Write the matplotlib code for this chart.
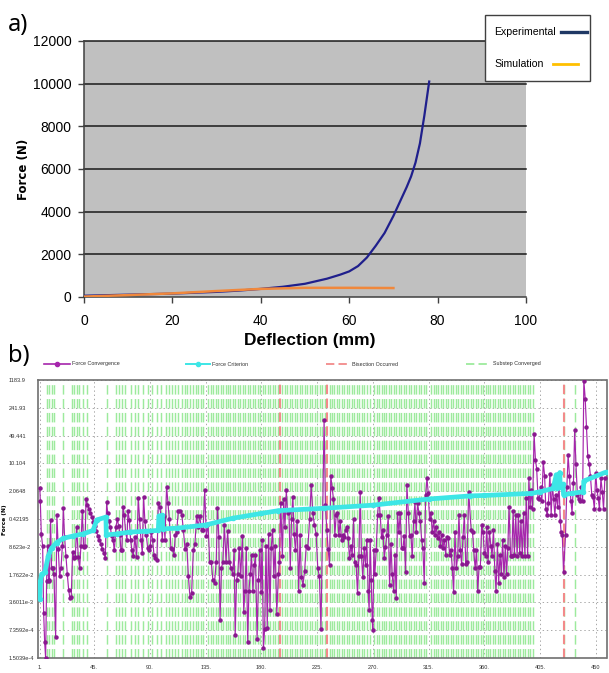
import matplotlib
matplotlib.use("Agg")
import matplotlib.pyplot as plt
from matplotlib.lines import Line2D
from matplotlib.patches import Rectangle

plt.rcParams["lines.scale_dashes"] = False

SANS = ["Liberation Sans", "DejaVu Sans"]

# ---------------- panel a: force vs deflection ----------------
exp_defl = [0, 5, 10, 15, 20, 25, 30, 35, 40, 45, 50, 55, 58, 60, 62, 64, 66, 68, 70, 71,
            72, 73, 74, 75, 76, 77, 78.1]
exp_force = [60, 85, 110, 135, 160, 200, 240, 300, 380, 480, 620, 860, 1050, 1200, 1450,
             1850, 2400, 3000, 3800, 4250, 4700, 5150, 5650, 6300, 7200, 8500, 10100]
sim_defl = [0, 10, 20, 30, 40, 50, 60, 70]
sim_force = [20, 90, 170, 280, 380, 430, 430, 420]
a_xticks = [0, 20, 40, 60, 80, 100]
a_yticks = [0, 2000, 4000, 6000, 8000, 10000, 12000]

# ---------------- panel b: solver convergence history ----------------
conv_iter = [
    1, 1.4, 2.2, 3.3, 4.1, 4.9, 5.7, 6.5, 7.3, 8.1, 8.7, 9.7, 10.5, 11.3, 12.4, 13.8, 14.8,
    15.9, 17.0, 18.1, 19.2, 20.0, 21.0, 22.1, 23.2, 24.3, 25.3, 26.4, 27.5, 28.6, 29.7, 30.7,
    32.1, 33.2, 34.2, 35.3, 36.4, 37.5, 38.3, 39.5, 40.7, 41.9, 43.1, 44.3, 45.5, 46.7, 47.9,
    49.1, 50.3, 51.5, 52.7, 53.9, 55.0, 55.8, 56.8, 57.9, 59.0, 60.1, 61.2, 62.5, 63.6, 64.7,
    65.7, 66.5, 67.3, 68.2, 69.2, 70.3, 71.4, 72.2, 73.3, 74.3, 75.4, 76.5, 77.8, 79.2, 80.5,
    81.6, 82.7, 83.8, 84.8, 85.9, 87.0, 88.1, 89.2, 90.2, 91.0, 92.1, 93.2, 94.3, 95.6, 96.7,
    97.8, 98.8, 99.9, 101.0, 102.1, 103.4, 104.5, 105.6, 106.9, 108.0, 109.4, 110.4, 111.5,
    112.9, 114.4, 115.7, 117.0, 118.3, 119.7, 121.0, 122.3, 123.6, 125.0, 126.3, 127.6, 128.9,
    130.2, 131.6, 132.9, 134.2, 135.5, 136.9, 138.2, 139.5, 140.8, 142.1, 143.5, 144.5, 145.6,
    146.6, 147.7, 148.8, 150.1, 151.4, 152.7, 154.0, 155.4, 156.7, 158.0, 158.8, 159.9, 160.9,
    162.0, 163.3, 164.6, 165.7, 166.7, 167.8, 168.9, 169.9, 171.0, 172.0, 173.1, 174.2, 175.2,
    176.5, 177.6, 178.7, 179.7, 180.5, 181.6, 182.6, 183.7, 184.7, 185.8, 186.9, 187.9, 189.0,
    190.0, 191.1, 192.4, 193.7, 194.5, 195.6, 196.9, 198.0, 199.0, 200.1, 201.1, 202.2, 203.3,
    204.3, 205.4, 206.4, 207.5, 208.8, 210.1, 211.2, 212.2, 213.6, 214.9, 216.2, 217.5, 218.9,
    220.2, 221.5, 222.8, 224.2, 225.5, 226.8, 228.1, 230.6, 231.7, 232.8, 233.9, 235.0, 236.0,
    237.1, 238.2, 239.3, 240.4, 241.4, 242.5, 243.6, 244.7, 245.7, 246.8, 247.9, 249.0, 250.1,
    251.1, 252.2, 253.3, 254.4, 255.4, 256.5, 257.6, 258.7, 259.8, 260.8, 261.9, 263.0, 264.1,
    265.1, 266.2, 267.0, 267.8, 268.7, 269.5, 270.0, 270.8, 271.6, 272.7, 273.8, 274.9, 275.9,
    277.0, 278.1, 279.2, 280.2, 281.3, 282.4, 283.5, 284.6, 285.6, 286.7, 287.8, 288.9, 289.9,
    291.0, 292.1, 293.2, 294.3, 295.3, 296.4, 297.5, 298.6, 299.6, 300.7, 301.8, 302.9, 304.0,
    305.0, 306.1, 307.2, 308.3, 309.4, 310.4, 311.5, 312.6, 313.7, 314.7, 315.8, 316.9, 318.0,
    319.1, 320.1, 321.2, 322.3, 323.4, 324.4, 325.5, 326.6, 327.7, 328.8, 329.8, 330.9, 332.0,
    333.1, 334.2, 335.2, 336.3, 337.4, 338.5, 339.5, 340.6, 341.7, 342.8, 343.9, 345.0, 346.0,
    347.4, 349.4, 350.5, 351.5, 352.6, 353.7, 354.7, 355.8, 356.8, 357.9, 359.0, 360.0, 361.0,
    362.0, 363.0, 364.2, 365.3, 366.3, 367.4, 368.5, 369.5, 370.6, 371.6, 372.7, 373.8, 374.8,
    375.9, 377.0, 378.0, 379.0, 380.0, 381.2, 382.2, 383.3, 384.3, 385.4, 386.5, 387.5, 388.6,
    389.6, 390.7, 391.7, 392.8, 393.9, 395.0, 396.0, 397.0, 398.0, 399.0, 400.2, 401.3, 402.3,
    403.4, 404.4, 405.5, 406.5, 407.6, 408.7, 409.7, 410.8, 411.8, 413.0, 414.0, 415.0, 416.0,
    417.0, 418.2, 419.3, 420.3, 421.4, 422.0, 423.0, 424.0, 425.6, 426.7, 427.7, 428.8, 429.9,
    430.9, 432.0, 433.0, 434.0, 435.2, 436.2, 437.2, 438.3, 439.4, 440.4, 441.5, 442.5, 443.6,
    444.7, 445.7, 446.8, 447.8, 448.9, 450.0, 451.0, 452.0, 453.0, 454.2, 455.3, 456.3, 457.4,
]
conv_force = [
    2.5, 1.2, 0.18, 0.09, 2.0e-3, 3.8e-4, 1.5e-4, 1.2e-2, 0.09, 1.2e-2, 1.3e-2, 0.39, 2.6e-2,
    2.5e-2, 1.8e-2, 5.0e-4, 0.54, 7.8e-2, 1.6e-2, 2.5e-2, 0.09, 0.8, 0.15, 5.0e-2, 1.8e-2,
    7.5e-3, 4.5e-3, 5.0e-3, 6.4e-2, 4.5e-2, 4.8e-2, 0.27, 4.8e-2, 2.5e-2, 9.0e-2, 0.68,
    8.5e-2, 9.0e-2, 1.3, 0.94, 0.76, 0.6, 0.46, 0.36, 0.28, 0.21, 0.16, 0.13, 0.1, 0.077, 0.06,
    0.046, 1.1, 0.6, 0.37, 0.27, 0.16, 0.13, 0.07, 0.27, 0.42, 0.28, 0.17, 0.07, 0.07, 0.85,
    0.54, 0.2, 0.13, 0.68, 0.4, 0.13, 0.07, 0.05, 0.15, 0.048, 1.4, 0.42, 0.13, 0.06, 1.5,
    0.37, 0.17, 0.08, 0.07, 0.09, 0.2, 0.13, 0.055, 0.045, 0.04, 1.05, 0.85, 0.54, 0.13, 0.5,
    0.13, 2.7, 1.05, 0.42, 0.08, 0.075, 0.055, 0.17, 0.2, 0.68, 0.68, 0.54, 0.22, 0.075, 0.1,
    0.016, 4.8e-3, 6.0e-3, 0.07, 0.1, 0.5, 0.27, 0.5, 0.23, 0.23, 2.2, 0.16, 0.31, 0.037,
    0.036, 0.013, 0.011, 0.037, 0.8, 0.15, 1.3e-3, 0.025, 0.037, 0.3, 0.037, 0.21, 0.037,
    0.026, 0.018, 0.07, 5.5e-4, 0.013, 0.018, 0.08, 0.016, 0.16, 2.1e-3, 7.0e-3, 0.08, 3.8e-4,
    7.0e-3, 0.018, 0.055, 7.0e-3, 0.03, 0.055, 4.5e-4, 0.013, 0.07, 6.5e-3, 0.13, 2.6e-4,
    8.0e-4, 0.09, 8.5e-4, 0.18, 2.3e-3, 0.08, 0.23, 0.016, 0.09, 1.9e-3, 0.018, 0.037, 1.05,
    0.05, 1.3, 0.27, 2.2, 0.6, 0.68, 0.025, 0.42, 1.5, 0.18, 0.07, 0.37, 7.0e-3, 0.17, 0.015,
    0.01, 0.022, 0.09, 0.08, 0.42, 2.9, 0.6, 0.3, 0.18, 0.025, 0.016, 8.0e-4, 120, 0.93, 0.22,
    0.075, 0.03, 5.0, 2.5, 1.3, 0.17, 0.54, 0.6, 0.17, 0.37, 0.13, 0.17, 0.15, 0.23, 0.27,
    0.14, 0.046, 0.09, 0.055, 0.42, 0.037, 0.03, 6.0e-3, 0.05, 2.0, 0.05, 0.015, 0.08, 0.03,
    0.13, 7.0e-3, 2.3e-3, 0.13, 0.013, 1.3e-3, 7.4e-4, 0.07, 0.018, 0.07, 0.54, 1.4, 0.54,
    0.15, 0.22, 0.046, 0.085, 0.17, 0.5, 0.01, 0.1, 0.018, 7.0e-3, 0.055, 4.6e-3, 0.6, 0.2,
    0.58, 0.08, 0.08, 0.16, 0.02, 2.9, 0.6, 0.16, 0.17, 0.05, 0.37, 1.1, 0.2, 1.05, 0.6, 0.37,
    0.13, 0.08, 0.011, 1.7, 4.3, 1.9, 0.42, 0.58, 0.2, 0.37, 0.17, 0.27, 0.14, 0.2, 0.09, 0.17,
    0.08, 0.13, 0.055, 0.15, 0.14, 0.055, 0.07, 0.025, 6.5e-3, 0.2, 0.025, 0.05, 0.54, 0.07,
    0.033, 0.15, 0.54, 0.033, 0.037, 2.0, 0.22, 0.2, 0.07, 0.025, 0.07, 7.0e-3, 0.027, 0.027,
    0.3, 0.2, 0.06, 0.05, 0.27, 0.037, 0.2, 0.09, 0.05, 0.23, 0.022, 7.0e-3, 0.1, 0.011, 0.055,
    0.018, 0.13, 0.015, 0.09, 0.018, 0.08, 0.85, 0.05, 0.05, 0.68, 0.055, 0.54, 0.05, 0.54,
    0.06, 0.37, 0.05, 0.6, 0.05, 1.4, 0.05, 4.3, 0.85, 2.2, 0.75, 55, 12.5, 7.5, 1.4, 1.3, 2.7,
    1.2, 11, 5.0, 0.75, 0.54, 1.05, 5.5, 0.54, 2.9, 1.3, 0.54, 1.7, 0.85, 3.3, 0.37, 0.2, 0.17,
    0.02, 0.17, 2.7, 16, 5.0, 1.2, 0.6, 3.3, 70, 10, 1.7, 1.3, 1.2, 2.7, 1.2, 1150, 410, 80,
    15, 10, 5.0, 1.7, 1.5, 0.75, 6.0, 2.2, 1.4, 0.75, 4.3, 2.0, 0.75, 4.3,
]
crit_iter = [1, 1.5, 2.5, 5, 7.8, 10.5, 14.6, 20, 28, 36, 44, 47, 54.4, 54.7, 63, 74, 87,
             96.7, 97.2, 100, 100.3, 112, 135, 156.7, 180, 193.7, 230.8, 270, 315, 348.7,
             360, 398, 405, 415.6, 418.2, 418.5, 421, 421.3, 423.5, 424, 431, 439.9, 440.4,
             457.9]
crit_force = [4.3e-3, 1.2e-2, 1.8e-2, 2.0e-2, 5.0e-2, 8.0e-2, 0.11, 0.14, 0.16, 0.18, 0.22,
              0.40, 0.47, 0.17, 0.18, 0.2, 0.21, 0.22, 0.5, 0.52, 0.24, 0.25, 0.3, 0.44, 0.58,
              0.68, 0.78, 0.93, 1.32, 1.58, 1.62, 1.82, 2.0, 2.42, 5.3, 2.5, 6.0, 2.7, 3.07,
              1.7, 1.82, 2.0, 3.7, 6.1]
bisection_iter = [195, 233, 424]
substep_iter = [
    6.5, 8.5, 10.5, 12.5, 20, 27, 29, 31, 33, 36, 39, 55, 62.5, 65, 67.5, 70, 75, 77.5, 80,
    84, 88, 92, 96, 98.5, 103, 105.5, 108, 110.5, 113, 115.5, 118, 120, 122.5, 125, 127, 129,
    131, 133, 137, 139, 141, 143, 145, 147, 149, 151, 153, 155, 157, 159, 161, 163, 165, 167,
    169, 171, 173, 175, 177, 179, 181, 183, 185, 187, 189, 191, 193, 197, 199, 201, 203, 205,
    207, 209, 211, 213, 215, 217, 219, 221, 223, 225, 227, 229, 231, 235, 237, 239, 241, 243,
    245, 247, 249, 251, 253, 255, 257, 259, 261, 263, 265, 268, 271, 273, 275, 277, 279, 281,
    283, 285, 287, 289, 291, 293, 295, 297, 299, 301, 303, 305, 307, 309, 311, 313, 317, 319,
    321, 323, 325, 327, 329, 331, 333, 335, 337, 339, 341, 343, 345, 347, 349, 351, 353, 355,
    357, 359, 361, 363, 365, 367, 369, 371, 373, 375, 377, 379, 381, 383, 385, 387, 389, 391,
    393, 395, 397, 399.5, 424.5, 433,
]
b_xticks = [1, 45, 90, 135, 180, 225, 270, 315, 360, 405, 450]
b_xticklabels = ["1.", "45.", "90.", "135.", "180.", "225.", "270.", "315.", "360.",
                 "405.", "450"]
b_yticks = [1.5039e-4, 7.3592e-4, 3.6011e-3, 1.7622e-2, 8.623e-2, 0.42195, 2.0648,
            10.104, 49.441, 241.93, 1183.9]
b_yticklabels = ["1.5039e-4", "7.3592e-4", "3.6011e-3", "1.7622e-2", "8.623e-2",
                 "0.42195", "2.0648", "10.104", "49.441", "241.93", "1183.9"]

W, H = 609, 673
fig = plt.figure(figsize=(W / 100, H / 100), dpi=100)


def fx(px):
    return px / W


def fy(py):
    return 1 - py / H


# ================= panel a =================
ax1 = fig.add_axes([fx(84), fy(297), (526 - 84) / W, (297 - 41) / H])
ax1.set_facecolor("#C0C0C0")
for v in a_yticks[1:]:
    ax1.axhline(v, color="#1a1a1a", lw=1.1, zorder=1, clip_on=False)
ax1.plot(exp_defl, exp_force, color="#1F1F8C", lw=1.6, zorder=3)
ax1.plot(sim_defl, sim_force, color="#F0883C", lw=1.8, zorder=4)
ax1.set_xlim(0, 100)
ax1.set_ylim(0, 12000)
ax1.set_xticks(a_xticks)
ax1.set_yticks(a_yticks)
for s in ("top", "right"):
    ax1.spines[s].set_visible(False)
for s in ("left", "bottom"):
    ax1.spines[s].set_color("#404040")
    ax1.spines[s].set_linewidth(1.1)
ax1.tick_params(axis="both", direction="out", length=4, width=1, color="#404040",
                labelsize=10)
ax1.tick_params(axis="x", pad=8)
ax1.tick_params(axis="y", pad=5)
for lab in ax1.get_xticklabels() + ax1.get_yticklabels():
    lab.set_family(SANS)

fig.text(fx(24), fy(169), "Force (N)", rotation=90, ha="center", va="center",
         fontsize=8.5, fontweight="bold", family="DejaVu Sans")
fig.text(fx(310), fy(340), "Deflection (mm)", ha="center", va="center",
         fontsize=12.5, fontweight="bold", family=SANS)
fig.text(fx(8), fy(25), "a)", ha="left", va="center", fontsize=17, family="Noto Sans")

# legend box of panel a
fig.add_artist(Rectangle((fx(485), fy(81)), (590 - 485) / W, (81 - 15) / H,
                         transform=fig.transFigure, facecolor="white",
                         edgecolor="#404040", lw=1.0, zorder=10))
fig.text(fx(494), fy(32), "Experimental", ha="left", va="center", fontsize=7.6,
         family=SANS, zorder=11)
fig.add_artist(Line2D([fx(561), fx(587)], [fy(32), fy(32)], color="#1F3864", lw=2.4,
                      transform=fig.transFigure, zorder=11))
fig.text(fx(494), fy(64), "Simulation", ha="left", va="center", fontsize=7.6,
         family=SANS, zorder=11)
fig.add_artist(Line2D([fx(553), fx(578)], [fy(64), fy(64)], color="#FFC000", lw=2.0,
                      transform=fig.transFigure, zorder=11))

# ================= panel b =================
PURPLE = "#A625AC"
CYAN = "#3DE6E6"
RED = "#F28A8A"
GREEN = "#9DEA9D"

ax2 = fig.add_axes([fx(37.7), fy(658), (606.5 - 37.7) / W, (658 - 380) / H])
ax2.set_yscale("log")
ax2.set_xlim(-0.7, 458.7)
ax2.set_ylim(b_yticks[0], b_yticks[-1])
ax2.set_yticks(b_yticks)
ax2.set_yticklabels(b_yticklabels)
ax2.minorticks_off()
ax2.set_xticks(b_xticks)
ax2.set_xticklabels(b_xticklabels)
ax2.grid(True, ls=(0, (1, 2)), color="#A8A8A8", lw=0.7, zorder=0)
ax2.set_axisbelow(True)

ylo, yhi = b_yticks[0], b_yticks[-1]
ax2.vlines(substep_iter, ylo, yhi, colors=GREEN, linestyles=[(0, (6.8, 3.2))], lw=1.05,
           zorder=1)
ax2.vlines(bisection_iter, ylo, yhi, colors=RED, linestyles=[(0, (6.8, 3.2))], lw=1.5,
           zorder=2)
ax2.plot(conv_iter, conv_force, color=PURPLE, lw=0.85, marker="o", ms=2.2,
         mfc="#8A1890", mec="#8A1890", zorder=4)
ax2.plot(crit_iter, crit_force, color=CYAN, lw=3.4, marker="o", ms=3, mfc=CYAN,
         mec=CYAN, zorder=5, solid_capstyle="butt")

for s in ax2.spines.values():
    s.set_color("#707070")
    s.set_linewidth(1.2)
ax2.tick_params(axis="y", length=0, pad=21, labelsize=4.1, labelcolor="#303030")
ax2.tick_params(axis="x", length=0, pad=5, labelsize=4.1, labelcolor="#303030")
for lab in ax2.get_yticklabels():
    lab.set_horizontalalignment("left")
    lab.set_family(SANS)
for lab in ax2.get_xticklabels():
    lab.set_family(SANS)

fig.text(fx(5), fy(520), "Force (N)", rotation=90, ha="center", va="center",
         fontsize=4.2, fontweight="bold", family="DejaVu Sans")
fig.text(fx(8), fy(356), "b)", ha="left", va="center", fontsize=17, family="Noto Sans")

# legend row of panel b
ly = fy(364)
LEG_FS = 3.9
fig.add_artist(Line2D([fx(44), fx(70)], [ly, ly], color=PURPLE, lw=1.2,
                      transform=fig.transFigure))
fig.add_artist(Line2D([fx(57)], [ly], color=PURPLE, marker="o", ms=3,
                      transform=fig.transFigure))
fig.text(fx(71.5), ly, "Force Convergence", ha="left", va="center", fontsize=LEG_FS,
         family=SANS, color="#303030")
fig.add_artist(Line2D([fx(186), fx(210)], [ly, ly], color=CYAN, lw=1.4,
                      transform=fig.transFigure))
fig.add_artist(Line2D([fx(198)], [ly], color=CYAN, marker="o", ms=3,
                      transform=fig.transFigure))
fig.text(fx(211.5), ly, "Force Criterion", ha="left", va="center", fontsize=LEG_FS,
         family=SANS, color="#303030")
fig.add_artist(Line2D([fx(326), fx(350)], [ly, ly], color=RED, lw=1.3,
                      linestyle=(0, (6, 3)), transform=fig.transFigure))
fig.text(fx(352), ly, "Bisection Occurred", ha="left", va="center", fontsize=LEG_FS,
         family=SANS, color="#303030")
fig.add_artist(Line2D([fx(466), fx(490)], [ly, ly], color=GREEN, lw=1.3,
                      linestyle=(0, (6, 3)), transform=fig.transFigure))
fig.text(fx(493), ly, "Substep Converged", ha="left", va="center", fontsize=LEG_FS,
         family=SANS, color="#303030")

fig.savefig("out.png", dpi=100)
